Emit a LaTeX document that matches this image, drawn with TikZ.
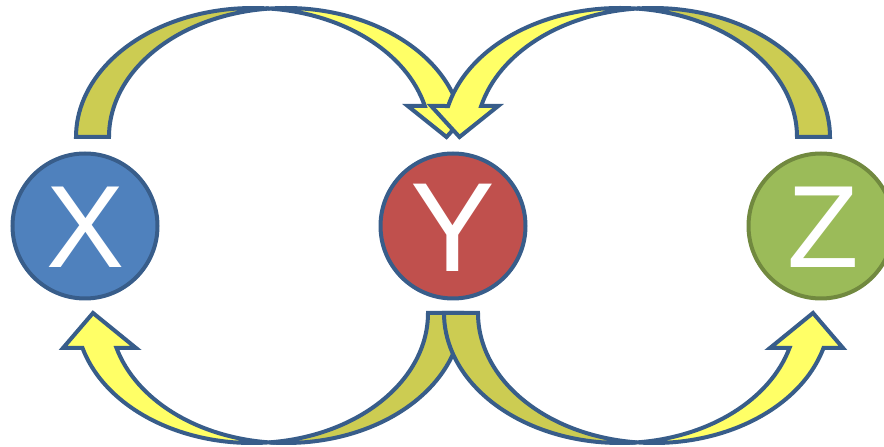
\documentclass[tikz,border=0pt]{standalone}
\usepackage{fontspec}
\setmainfont{Liberation Sans}
\usetikzlibrary{calc}
\definecolor{edgeblue}{HTML}{385D8A}
\definecolor{edgegreen}{HTML}{71893F}
\definecolor{yellowfill}{HTML}{FFFF66}
\definecolor{olivefill}{HTML}{CCCC52}
\definecolor{xfill}{HTML}{4F81BD}
\definecolor{yfill}{HTML}{C0504D}
\definecolor{zfill}{HTML}{9BBB59}
\tikzset{
  arrowline/.style={draw=edgeblue, line width=4pt, line join=miter},
  backface/.style={arrowline, fill=olivefill},
  frontface/.style={arrowline, fill=yellowfill},
  ball/.style={circle, minimum size=145pt, inner sep=0pt, line width=4pt},
  letter/.style={inner sep=0pt, text=white, font=\fontsize{117}{117}\selectfont},
  bigletter/.style={letter, font=\fontsize{127}{127}\selectfont},
}
% #1 scope options, #2 wR, #3 h, #4 shaft, #5 head width, #6 head length
\newcommand{\curvedarrow}[6]{%
  \begin{scope}[#1]
    \pgfmathsetmacro\arA{acos(#4/(2*#2))}
    \pgfmathsetmacro\arB{180-\arA}
    \pgfmathsetmacro\arIx{#2+#4/2}
    \pgfmathsetmacro\arIy{#3*sin(\arA)}
    \pgfmathsetmacro\arP{asin(#6/#3)}
    \pgfmathsetmacro\arDx{#2*cos(\arP)}
    \pgfmathsetmacro\arXf{#2+\arDx}
    \pgfmathsetmacro\arXs{#2+#4+\arDx}
    \pgfmathsetmacro\arDh{(#5-#4)/2}
    \pgfmathsetmacro\arXq{\arXf-\arDh}
    \pgfmathsetmacro\arXe{\arXs+\arDh}
    \pgfmathsetmacro\arXt{2*#2+#4/2}
    \draw[backface] (\arIx,\arIy)
      arc[start angle=\arA, end angle=180, x radius=#2pt, y radius=#3pt]
      -- (#4,0)
      arc[start angle=180, end angle=\arB, x radius=#2pt, y radius=#3pt]
      -- cycle;
    \draw[frontface] (\arIx,\arIy)
      arc[start angle=\arB, end angle=\arP, x radius=#2pt, y radius=#3pt]
      -- (\arXe,#6) -- (\arXt,0) -- (\arXq,#6) -- (\arXf,#6)
      arc[start angle=\arP, end angle=\arA, x radius=#2pt, y radius=#3pt]
      -- cycle;
  \end{scope}}
\begin{document}
\begin{tikzpicture}[x=1pt, y=1pt]
  \useasboundingbox (0,0) rectangle (884,447);
  \clip (0,0) rectangle (884,447);
  \node[ball, draw=edgeblue, fill=xfill] (X) at (85,221) {};
  \node[ball, draw=edgeblue, fill=yfill] (Y) at (453,221) {};
  \node[ball, draw=edgegreen, fill=zfill] (Z) at (821,221) {};
  \node[letter] (Xt) at ($(X.center)+(0.5,-1.5)$) {X};
  \node[bigletter] (Yt) at ($(Y.center)+(0,-1.5)$) {Y};
  \node[letter] (Zt) at ($(Z.center)+(2,-1.5)$) {Z};
  % top arrows: X -> Y, Z -> Y
  \curvedarrow{shift={($(X.center)+(-9,89)$)}}{177}{129}{33}{67}{31}
  \curvedarrow{shift={($(Z.center)+(9,89)$)}, xscale=-1}{177}{129}{33}{67}{31}
  % bottom arrows: Y -> X, Y -> Z
  \curvedarrow{shift={($(Y.center)+(9,-87)$)}, rotate=180}{176}{130}{34}{73}{35}
  \curvedarrow{shift={($(Y.center)+(-9,-87)$)}, yscale=-1}{176}{130}{34}{73}{35}
\end{tikzpicture}
\end{document}
